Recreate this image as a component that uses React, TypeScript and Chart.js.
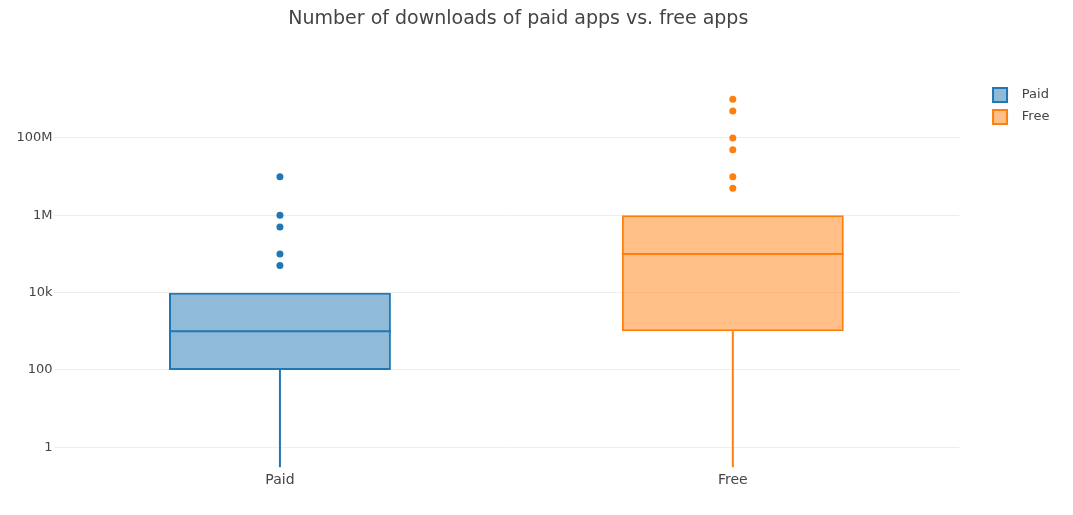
import React, { useEffect, useRef } from "react";
import { Chart, registerables } from "chart.js";

Chart.register(...registerables);

const categories = ["Paid", "Free"];
const seriesColors = ["#1f77b4", "#ff7f0e"];
const seriesFills = ["rgba(31,119,180,0.5)", "rgba(255,127,14,0.5)"];

// box statistics (downloads)
const q1Values = [100, 1000];
const medianValues = [1000, 100000];
const q3Values = [10000, 1000000];
const whiskerLowValues = [0, 0];
const whiskerHighValues = [10000, 1000000];

// outliers
const paidOutliers = [10000000, 1000000, 500000, 100000, 50000];
const freeOutliers = [1000000000, 500000000, 100000000, 50000000, 10000000, 5000000];

const yTickValues = [1, 100, 10000, 1000000, 100000000];
const yTickLabels = ["1", "100", "10k", "1M", "100M"];
const yMin = Math.pow(10, -0.5);
const yMax = Math.pow(10, 9.5);

const FONT = "'DejaVu Sans', Verdana, sans-serif";
const TEXT = "#444";

const boxPlugin = {
  id: "boxParts",
  afterDatasetsDraw(chart: any) {
    const ctx = chart.ctx;
    const y = chart.scales.y;
    const area = chart.chartArea;
    ctx.save();
    ctx.beginPath();
    ctx.rect(area.left, area.top, area.right - area.left, area.bottom - area.top);
    ctx.clip();
    for (let i = 0; i < categories.length; i++) {
      const meta = chart.getDatasetMeta(i);
      const el: any = meta.data[i];
      if (!el) continue;
      const cx = el.x;
      const half = el.width / 2;
      ctx.strokeStyle = seriesColors[i];
      ctx.lineWidth = 2;
      // median
      const my = y.getPixelForValue(medianValues[i]);
      ctx.beginPath();
      ctx.moveTo(cx - half, my);
      ctx.lineTo(cx + half, my);
      ctx.stroke();
      // lower whisker
      ctx.beginPath();
      ctx.moveTo(cx, y.getPixelForValue(q1Values[i]));
      ctx.lineTo(cx, y.getPixelForValue(whiskerLowValues[i]));
      ctx.stroke();
      // upper whisker
      ctx.beginPath();
      ctx.moveTo(cx, y.getPixelForValue(q3Values[i]));
      ctx.lineTo(cx, y.getPixelForValue(whiskerHighValues[i]));
      ctx.stroke();
    }
    ctx.restore();
  },
};

export default function App() {
  const ref = useRef<HTMLCanvasElement | null>(null);

  useEffect(() => {
    if (!ref.current) return;
    const boxData = categories.map((_, i) =>
      categories.map((__, j) => (i === j ? [q1Values[i], q3Values[i]] : null))
    );
    const boxDataset = (i: number) => ({
      type: "bar",
      label: categories[i],
      data: boxData[i] as any,
      backgroundColor: seriesFills[i],
      borderColor: seriesColors[i],
      borderWidth: 2,
      borderSkipped: false,
      grouped: false,
      barPercentage: 0.49,
      categoryPercentage: 1,
      order: 2,
    });
    const chart = new Chart(ref.current, {
      type: "bar",
      data: {
        labels: categories,
        datasets: [
          boxDataset(0),
          boxDataset(1),
          {
            type: "scatter",
            label: "Paid outliers",
            data: paidOutliers.map((v) => ({ x: categories[0], y: v })) as any,
            backgroundColor: seriesColors[0],
            borderColor: seriesColors[0],
            pointRadius: 3.5,
            borderWidth: 0,
            order: 1,
          },
          {
            type: "scatter",
            label: "Free outliers",
            data: freeOutliers.map((v) => ({ x: categories[1], y: v })) as any,
            backgroundColor: seriesColors[1],
            borderColor: seriesColors[1],
            pointRadius: 3.5,
            borderWidth: 0,
            order: 1,
          },
        ] as any,
      },
      options: {
        animation: false,
        responsive: false,
        events: [],
        layout: { padding: { left: -22.8, right: 13.6, top: 0, bottom: 0 } },
        plugins: {
          title: {
            display: true,
            text: "Number of downloads of paid apps vs. free apps",
            color: TEXT,
            font: { family: FONT, size: 19, weight: "normal" },
            padding: { top: 7.6, bottom: 49.6 },
          },
          legend: {
            display: true,
            position: "right",
            align: "start",
            fullSize: false,
            labels: {
              boxWidth: 14,
              boxHeight: 14,
              padding: 8,
              color: TEXT,
              font: { family: FONT, size: 13 },
              filter: (item: any) => item.datasetIndex < 2,
              generateLabels: (chart: any) =>
                Chart.defaults.plugins.legend.labels
                  .generateLabels(chart)
                  .map((it: any) => ({ ...it, text: "  " + it.text })),
            },
          },
          tooltip: { enabled: false },
        },
        scales: {
          x: {
            type: "category",
            offset: true,
            grid: { display: false, drawTicks: false },
            border: { display: false },
            ticks: {
              color: TEXT,
              font: { family: FONT, size: 14 },
              padding: 4,
            },
            afterFit: (s: any) => {
              s.height = 47.5;
            },
          },
          y: {
            type: "logarithmic",
            min: yMin,
            max: yMax,
            grid: { color: "#eeeeee", lineWidth: 1, drawTicks: false },
            border: { display: false },
            afterBuildTicks: (s: any) => {
              s.ticks = yTickValues.map((v) => ({ value: v }));
            },
            ticks: {
              autoSkip: false,
              color: TEXT,
              font: { family: FONT, size: 13 },
              padding: 1,
              callback: (_v: any, i: number) => yTickLabels[i],
            },
            afterFit: (s: any) => {
              s.width = 76.3;
            },
          },
          pad: {
            type: "linear",
            position: "right",
            display: true,
            grid: { display: false, drawTicks: false },
            border: { display: false },
            ticks: { display: false },
            afterFit: (s: any) => {
              s.width = 25.8;
            },
          },
        },
      } as any,
      plugins: [boxPlugin],
    });
    return () => chart.destroy();
  }, []);

  return (
    <div style={{ position: "absolute", left: 0, top: 0, width: 1073, height: 515, background: "#fff" }}>
      <canvas ref={ref} width={1073} height={515} style={{ display: "block" }} />
    </div>
  );
}
